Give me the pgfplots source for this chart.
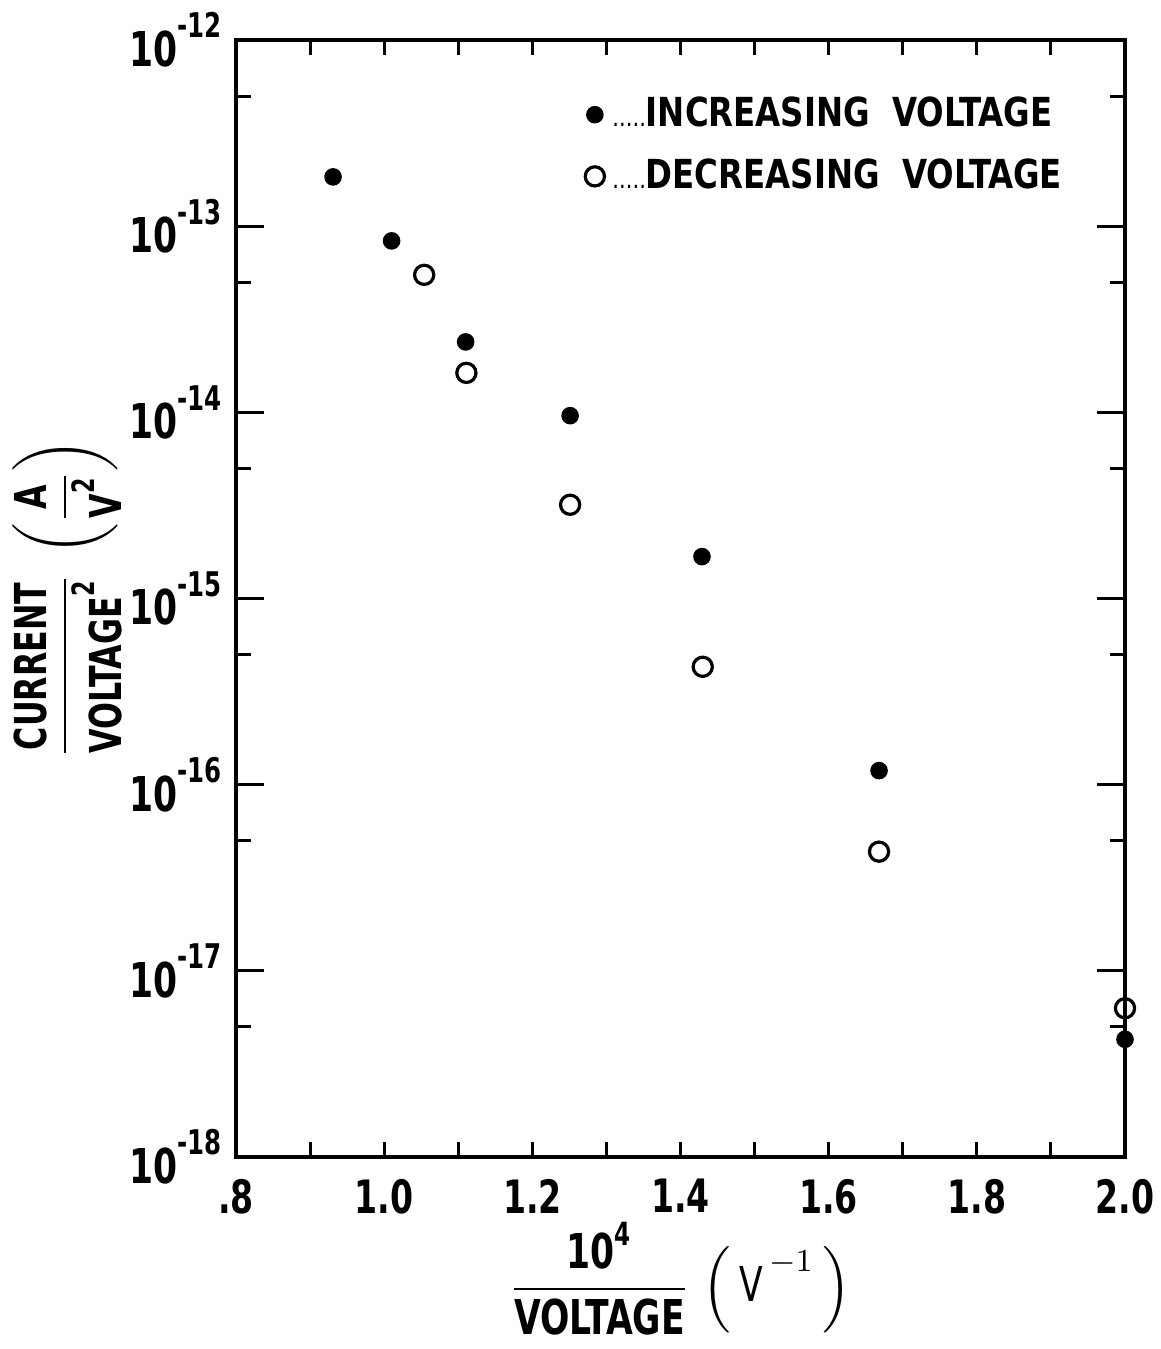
\documentclass[border=0pt]{standalone}
\usepackage{amsmath}
\usepackage{fontspec}
\setmainfont{DejaVu Sans Condensed}[FakeStretch=0.8]
\newfontfamily\legfont{DejaVu Sans Condensed}[FakeStretch=0.9]
\usepackage{pgfplots}
\pgfplotsset{compat=1.18}
\newcommand\tl[1]{\bfseries 10\raisebox{0.6em}{\fontsize{8.5}{9}\selectfont -#1}}
\newcommand\leaderdots{{\fontsize{6.5}{6.5}\selectfont\mdseries .....}}
\begin{document}
\begin{tikzpicture}
\useasboundingbox (-59pt,-48pt) rectangle (231pt,289.25pt);
\begin{axis}[
  at={(0,0)}, anchor=south west,
  scale only axis, width=222.25pt, height=279.25pt,
  ymode=log, xmin=0.8, xmax=2.0, ymin=1e-18, ymax=1e-12,
  clip=false,
  axis line style={line width=1pt},
  every tick/.style={black, line width=0.75pt},
  major tick length=3.75pt,
  minor tick style={draw=none},
  xtick={0.8,0.9,1.0,1.1,1.2,1.3,1.4,1.5,1.6,1.7,1.8,1.9,2.0},
  xticklabels={.8,,1.0,,1.2,,1.4,,1.6,,1.8,,2.0},
  x tick label style={font=\bfseries\fontsize{11.5}{12}\selectfont, yshift=-2pt},
  ytick={5e-18,5e-17,5e-16,5e-15,5e-14,5e-13},
  yticklabels={},
  extra y ticks={1e-18,1e-17,1e-16,1e-15,1e-14,1e-13,1e-12},
  extra y tick labels={\tl{18},\tl{17},\tl{16},\tl{15},\tl{14},\tl{13},\tl{12}},
  extra y tick style={major tick length=7pt},
  y tick label style={font=\fontsize{12}{13}\selectfont},
  ylabel={$\dfrac{\text{CURRENT}}{\text{VOLTAGE}^{\text{2}}}\;\left(\dfrac{\text{A}}{\text{V}^{\text{2}}}\right)$},
  ylabel style={font=\bfseries\fontsize{11}{13}\selectfont, inner sep=0pt, at={(axis description cs:-0.19,0.5)}, anchor=center},
  xlabel={$\dfrac{\text{10}^{\text{4}}}{\text{VOLTAGE}}\;\Big(\,\mathrm{V}^{-1}\,\Big)$},
  xlabel style={font=\bfseries\fontsize{12}{14}\selectfont, inner sep=0pt, at={(axis description cs:0.5,-0.109)}, anchor=center},
  legend style={draw=none, fill=none, at={(0.392,0.957)}, anchor=north west,
    font=\legfont\bfseries\fontsize{10}{11}\selectfont, row sep=2.5pt, inner sep=0pt},
  legend cell align=left,
  legend image code/.code={\draw plot coordinates {(0.1cm,0cm)};},
]
\addplot[only marks, mark=*, mark size=2pt, black] coordinates {
(0.931,1.84e-13) (1.010,8.34e-14) (1.110,2.39e-14) (1.251,9.6e-15)
(1.429,1.68e-15) (1.668,1.19e-16) (2.0,4.29e-18)};
\addlegendentry{\leaderdots INCREASING\ \ VOLTAGE}
\addplot[only marks, mark=o, mark size=2.4pt, black, line width=0.8pt] coordinates {
(1.054,5.48e-14) (1.111,1.63e-14) (1.251,3.19e-15) (1.430,4.3e-16)
(1.668,4.37e-17) (2.0,6.3e-18)};
\addlegendentry{\leaderdots DECREASING\ \ VOLTAGE}
\end{axis}
\end{tikzpicture}
\end{document}
